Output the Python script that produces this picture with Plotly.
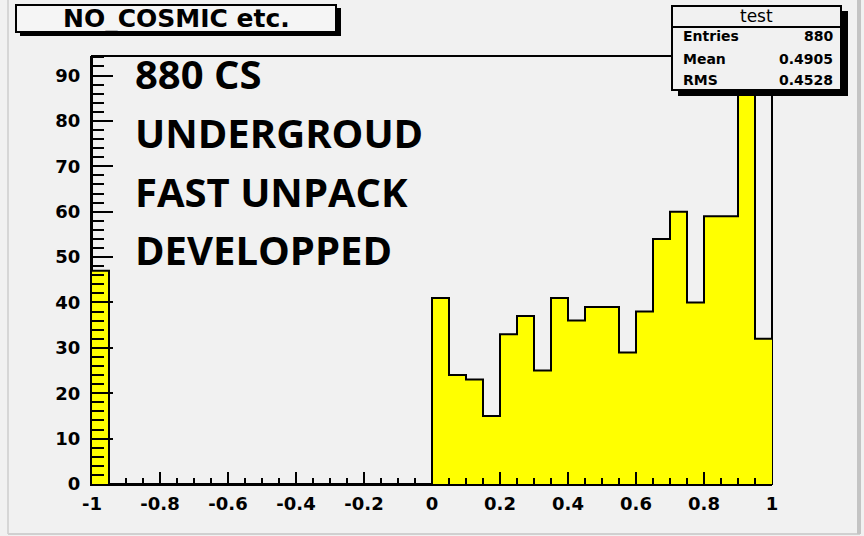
import plotly.graph_objects as go

# ---------------- data ----------------
bin_edges_lo = [-1.0 + 0.05 * i for i in range(40)]
counts = [47] + [0] * 19 + [41, 24, 23, 15, 33, 37, 25, 41, 36, 39,
                            39, 29, 38, 54, 60, 40, 59, 59, 109, 32]
bin_width = 0.05
x_tickvals = [-1, -0.8, -0.6, -0.4, -0.2, 0, 0.2, 0.4, 0.6, 0.8, 1]
x_ticktext = ["-1", "-0.8", "-0.6", "-0.4", "-0.2", "0", "0.2", "0.4", "0.6", "0.8", "1"]
y_tickvals = [0, 10, 20, 30, 40, 50, 60, 70, 80, 90]
y_ticktext = ["0", "10", "20", "30", "40", "50", "60", "70", "80", "90"]
title_text = "NO_COSMIC etc."
stats_title = "test"
stats_names = ["Entries", "Mean", "RMS"]
stats_values = ["880", "0.4905", "0.4528"]
overlay_lines = ["880 CS", "UNDERGROUD", "FAST UNPACK", "DEVELOPPED"]
Y_MAX = 94.3

# ---------------- geometry helpers ----------------
W, H = 864, 536
L, R, T, B = 92, 92, 56, 52
PW, PH = W - L - R, H - T - B
BG = "#f1f1f1"


def px(p):
    return (p - L) / PW


def py(q):
    return (H - B - q) / PH


centers = [lo + bin_width / 2 for lo in bin_edges_lo]
step_x = bin_edges_lo + [bin_edges_lo[-1] + bin_width]
step_y = counts + [counts[-1]]

fig = go.Figure()
fig.add_trace(go.Bar(x=centers, y=counts, width=bin_width,
                     marker=dict(color="#ffff00", line=dict(width=0)),
                     hoverinfo="skip", showlegend=False))
fig.add_trace(go.Scatter(x=step_x, y=step_y, mode="lines",
                         line=dict(color="black", width=2, shape="hv"),
                         hoverinfo="skip", showlegend=False))

tickfont = dict(family="DejaVu Sans", size=18, color="black", weight="bold")

fig.update_xaxes(range=[-1, 1], showline=True, linecolor="black", linewidth=2,
                 showgrid=False, zeroline=False,
                 tickmode="array", tickvals=x_tickvals, ticktext=x_ticktext,
                 ticks="inside", ticklen=12, tickwidth=2, tickcolor="black",
                 tickfont=tickfont, ticklabelstandoff=2,
                 minor=dict(tickmode="linear", tick0=-1, dtick=0.05, ticks="inside",
                            ticklen=6, tickwidth=2, tickcolor="black", showgrid=False))
fig.update_yaxes(range=[0, Y_MAX], showline=True, linecolor="black", linewidth=2,
                 showgrid=False, zeroline=False,
                 tickmode="array", tickvals=y_tickvals, ticktext=y_ticktext,
                 ticks="inside", ticklen=21, tickwidth=2, tickcolor="black",
                 tickfont=tickfont, ticklabelstandoff=6,
                 minor=dict(tickmode="linear", tick0=0, dtick=2, ticks="inside",
                            ticklen=12, tickwidth=2, tickcolor="black", showgrid=False))

shapes = []
# plot frame (hidden by the histogram fill)
shapes.append(dict(type="rect", xref="paper", yref="paper", x0=0, x1=1, y0=0, y1=1,
                   line=dict(color="black", width=2), layer="below"))
# window border lines
shapes.append(dict(type="line", xref="paper", yref="paper", x0=px(8), x1=px(8),
                   y0=py(0), y1=py(534), line=dict(color="#d6d6d6", width=2)))
shapes.append(dict(type="line", xref="paper", yref="paper", x0=px(8), x1=px(860),
                   y0=py(534), y1=py(534), line=dict(color="#d0d0d0", width=2)))
shapes.append(dict(type="line", xref="paper", yref="paper", x0=px(859), x1=px(859),
                   y0=py(0), y1=py(534), line=dict(color="#c4c4c4", width=4)))
# stats box
shapes.append(dict(type="rect", xref="paper", yref="paper", x0=px(678), x1=px(848),
                   y0=py(11), y1=py(96), fillcolor="black", line=dict(width=0)))
shapes.append(dict(type="rect", xref="paper", yref="paper", x0=px(672), x1=px(841),
                   y0=py(6), y1=py(90), fillcolor=BG, line=dict(color="black", width=2)))
shapes.append(dict(type="line", xref="paper", yref="paper", x0=px(672), x1=px(841),
                   y0=py(27), y1=py(27), line=dict(color="black", width=2)))
# title box
shapes.append(dict(type="rect", xref="paper", yref="paper", x0=px(20), x1=px(341),
                   y0=py(8), y1=py(36), fillcolor="black", line=dict(width=0)))
shapes.append(dict(type="rect", xref="paper", yref="paper", x0=px(16), x1=px(336),
                   y0=py(5), y1=py(32), fillcolor="#f5f5f5", line=dict(color="black", width=2)))

annotations = []
annotations.append(dict(xref="paper", yref="paper", x=px(176), y=py(18), text=title_text,
                        showarrow=False, xanchor="center", yanchor="middle",
                        font=dict(family="DejaVu Sans", size=25, color="black", weight="bold")))
annotations.append(dict(xref="paper", yref="paper", x=px(756), y=py(16), text=stats_title,
                        showarrow=False, xanchor="center", yanchor="middle",
                        font=dict(family="DejaVu Sans", size=17, color="black")))
stat_rows_y = [36, 59, 80]
for name, val, yy in zip(stats_names, stats_values, stat_rows_y):
    annotations.append(dict(xref="paper", yref="paper", x=px(681), y=py(yy), text=name,
                            showarrow=False, xanchor="left", yanchor="middle",
                            font=dict(family="DejaVu Sans", size=14, color="black", weight="bold")))
    annotations.append(dict(xref="paper", yref="paper", x=px(835), y=py(yy), text=val,
                            showarrow=False, xanchor="right", yanchor="middle",
                            font=dict(family="DejaVu Sans", size=14, color="black", weight="bold")))
overlay_y = [74, 132, 191, 249]
for line, yy in zip(overlay_lines, overlay_y):
    annotations.append(dict(xref="paper", yref="paper", x=px(133), y=py(yy), text=line,
                            showarrow=False, xanchor="left", yanchor="middle",
                            font=dict(family="Open Sans", size=40, color="black", weight="bold")))

fig.update_layout(width=W, height=H, margin=dict(l=L, r=R, t=T, b=B),
                  paper_bgcolor=BG, plot_bgcolor=BG, bargap=0,
                  shapes=shapes, annotations=annotations, showlegend=False)

fig.write_html("out.html", config={"displayModeBar": False},
               post_script="document.body.style.margin='0';"
                           "document.body.style.background='" + BG + "';")
